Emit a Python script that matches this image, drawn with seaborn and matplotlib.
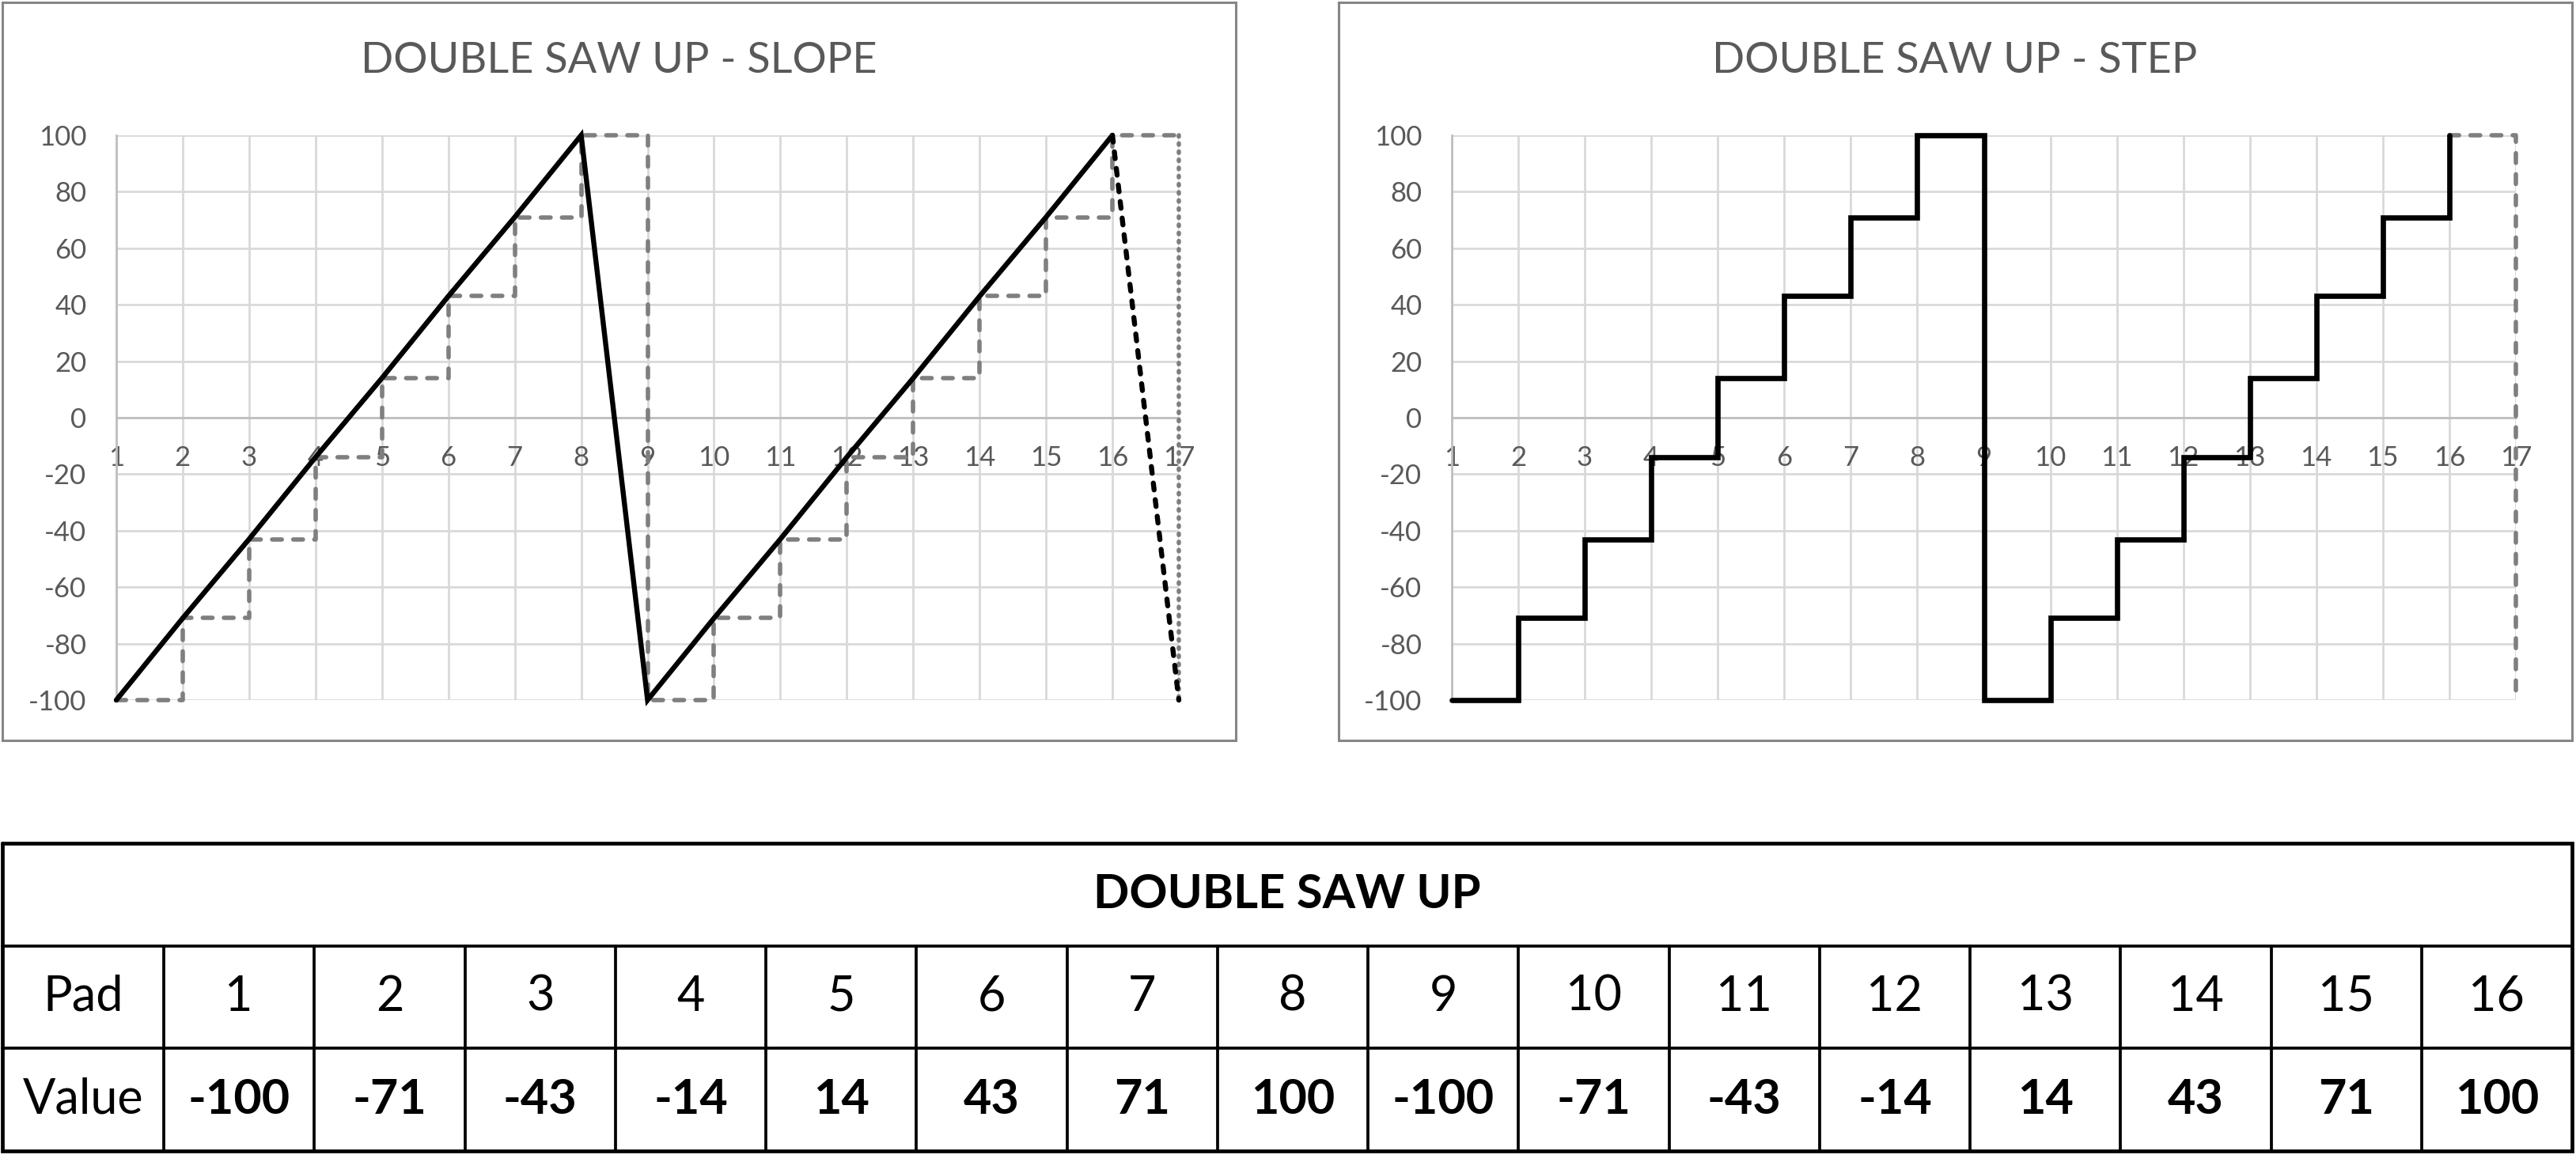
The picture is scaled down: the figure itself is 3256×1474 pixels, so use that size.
import matplotlib
matplotlib.use("Agg")
import matplotlib.pyplot as plt
from matplotlib.patches import Rectangle
import seaborn as sns
import numpy as np

# ---- data ----
pads = [1, 2, 3, 4, 5, 6, 7, 8, 9, 10, 11, 12, 13, 14, 15, 16]
values = [-100, -71, -43, -14, 14, 43, 71, 100, -100, -71, -43, -14, 14, 43, 71, 100]
x_ticks = list(range(1, 18))
y_ticks = list(range(-100, 101, 20))
title_slope = "DOUBLE SAW UP - SLOPE"
title_step = "DOUBLE SAW UP - STEP"
table_title = "DOUBLE SAW UP"
row_labels = ["Pad", "Value"]

sns.set_theme(style="white")
plt.rcParams['font.family'] = ['Lato', 'DejaVu Sans']

W, H = 3256, 1474
DPI = 100
fig = plt.figure(figsize=(W / DPI, H / DPI), dpi=DPI)
fig.patch.set_facecolor("white")

def fx(px):
    return px / W

def fy(py):
    return 1 - py / H

TXT = "#595959"
GRID = "#d9d9d9"
AXL = "#bfbfbf"
GRAY = "#7f7f7f"
BLACK = "#000000"

# chart boxes
for (x0, x1) in [(3, 1562), (1692, 3251)]:
    fig.add_artist(Rectangle((fx(x0), fy(936)), fx(x1) - fx(x0), fy(3) - fy(936),
                             transform=fig.transFigure, fill=False,
                             ec="#868686", lw=2.2))

def style_axes(ax, title, cx):
    ax.set_xlim(1, 17)
    ax.set_ylim(-100, 100)
    ax.set_xticks(x_ticks)
    ax.set_yticks(y_ticks)
    ax.set_xticklabels([str(t) for t in x_ticks])
    ax.set_yticklabels([str(t) for t in y_ticks])
    ax.grid(True, color=GRID, lw=2.0)
    ax.set_axisbelow(True)
    for s in ["top", "right"]:
        ax.spines[s].set_visible(False)
    ax.spines["bottom"].set_position(("data", 0))
    ax.spines["bottom"].set_color(AXL)
    ax.spines["bottom"].set_linewidth(2.0)
    ax.spines["left"].set_color(AXL)
    ax.spines["left"].set_linewidth(2.0)
    ax.tick_params(axis="both", length=0, labelsize=25, labelcolor=TXT)
    ax.tick_params(axis="y", pad=27)
    ax.tick_params(axis="x", pad=25)
    ax.set_xlabel("")
    ax.set_ylabel("")
    fig.text(fx(cx), fy(77), title, ha="center", va="center",
             fontsize=39, color=TXT)

def draw(ax, x, y, color, lw, ls="-", steps=False, z=3):
    n0 = len(ax.lines)
    kw = dict(drawstyle="steps-post") if steps else {}
    sns.lineplot(x=x, y=y, ax=ax, color=color, sort=False, estimator=None, **kw)
    for ln in ax.lines[n0:]:
        ln.set_linewidth(lw)
        ln.set_linestyle(ls)
        ln.set_dash_capstyle("round")
        ln.set_solid_capstyle("round")
        ln.set_solid_joinstyle("miter")
        ln.set_clip_on(False)
        ln.set_zorder(z)

# wrapped series (next cycle starts at first value)
x_ext = pads + [x_ticks[-1]]
y_ext = values + [values[0]]

DASH = (0, (2.2, 2.6))
DOT = (0, (0.3, 1.55))
BDASH = (0, (1.35, 1.95))

# ---- left: slope ----
axL = fig.add_axes([fx(147), fy(885), fx(1490) - fx(147), fy(171) - fy(885)])
style_axes(axL, title_slope, 782)
draw(axL, x_ext, values + [values[-1]], GRAY, 4.0, DASH, steps=True, z=3)
draw(axL, [x_ext[-1], x_ext[-1]], [values[-1], y_ext[-1]], GRAY, 4.0, DOT, z=3)
draw(axL, pads, values, BLACK, 4.6, "-", z=4)
draw(axL, x_ext[-2:], y_ext[-2:], BLACK, 4.6, BDASH, z=4)
axL.set_xlim(1, 17)
axL.set_ylim(-100, 100)

# ---- right: step ----
axR = fig.add_axes([fx(1835), fy(885), fx(3180) - fx(1835), fy(171) - fy(885)])
style_axes(axR, title_step, 2471)
draw(axR, pads, values, BLACK, 4.8, "-", steps=True, z=4)
draw(axR, [pads[-1], x_ext[-1], x_ext[-1]], [values[-1], values[-1], y_ext[-1]],
     GRAY, 4.0, DASH, z=3)
axR.set_xlim(1, 17)
axR.set_ylim(-100, 100)

# ---- table ----
tx0, tx1, ty0, ty1 = 3, 3251, 1066, 1455
axT = fig.add_axes([fx(tx0), fy(ty1), fx(tx1) - fx(tx0), fy(ty0) - fy(ty1)])
axT.set_xlim(0, tx1 - tx0)
axT.set_ylim(3, 0)
axT.axis("off")
first_w = 204
col_w = (tx1 - tx0 - first_w) / len(pads)
edges = [0, first_w] + [first_w + col_w * (i + 1) for i in range(len(pads))]
outer_lw, inner_lw = 3.4, 2.7
axT.plot([0, edges[-1], edges[-1], 0, 0], [0, 0, 3, 3, 0], color=BLACK,
         lw=outer_lw, clip_on=False, solid_joinstyle="miter")
for yy in [1, 2]:
    axT.plot([0, edges[-1]], [yy, yy], color=BLACK, lw=inner_lw, clip_on=False)
for xx in edges[1:-1]:
    axT.plot([xx, xx], [1, 3], color=BLACK, lw=inner_lw, clip_on=False)
axT.text(edges[-1] / 2, 0.5, table_title, ha="center", va="center",
         fontsize=43, fontweight="bold", color=BLACK)
axT.text(first_w / 2, 1.5, row_labels[0], ha="center", va="center",
         fontsize=44, color=BLACK)
axT.text(first_w / 2, 2.5, row_labels[1], ha="center", va="center",
         fontsize=44, color=BLACK)
for i, (p, v) in enumerate(zip(pads, values)):
    cxm = (edges[i + 1] + edges[i + 2]) / 2
    axT.text(cxm, 1.5, str(p), ha="center", va="center", fontsize=44, color=BLACK)
    axT.text(cxm, 2.5, str(v), ha="center", va="center", fontsize=44,
             fontweight="bold", color=BLACK)

fig.savefig("out.png", dpi=DPI, facecolor="white")
